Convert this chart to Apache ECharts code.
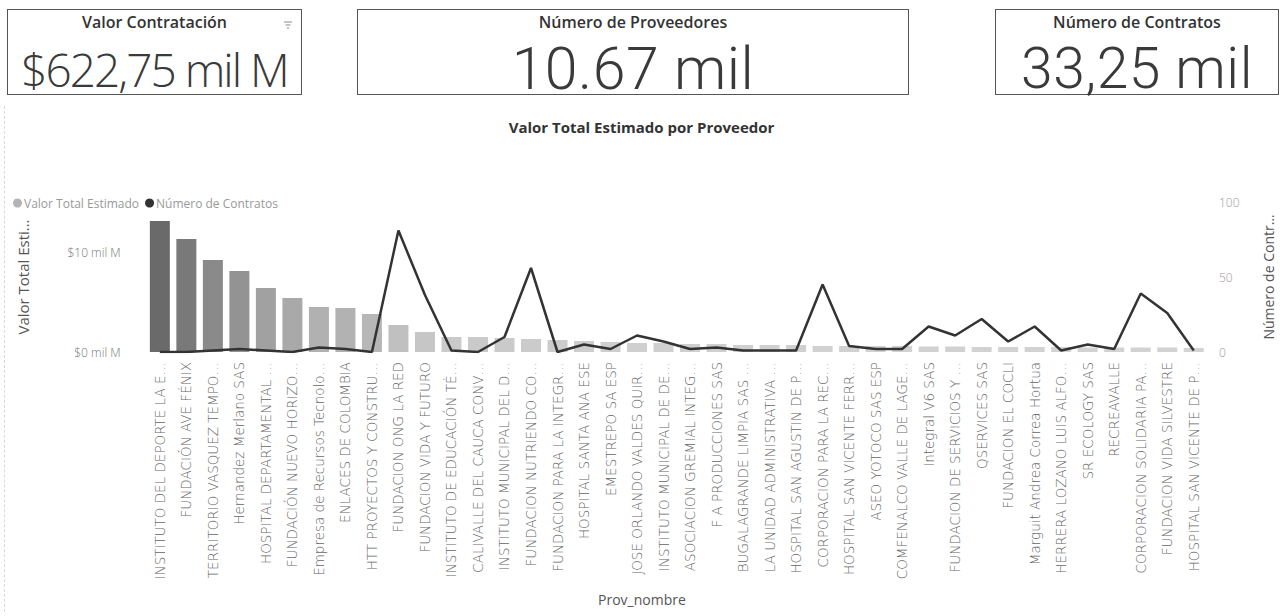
<!DOCTYPE html>
<html>
<head>
<meta charset="utf-8">
<script src="https://cdn.jsdelivr.net/npm/echarts@6/dist/echarts.min.js"></script>
<style>
  html, body { margin: 0; padding: 0; background: #fff; }
  body { width: 1283px; height: 616px; position: relative; overflow: hidden; font-family: 'Open Sans', sans-serif; }
  #chart { position: absolute; left: 0; top: 0; width: 1283px; height: 616px; }
  .frame { position: absolute; left: 4px; top: 106px; width: 1274px; height: 506px; border-left: 1px dashed #d8d8d8; }
  .card { position: absolute; top: 9px; height: 86px; border: 1.5px solid #555; box-sizing: border-box; text-align: center; color: #333; background: #fff; }
  .card .t { font-size: 16px; font-weight: 600; margin-top: 1px; line-height: 22px; white-space: nowrap; }
  .card .v { position: absolute; left: 0; right: 0; font-weight: 300; color: #3a3a3a; white-space: nowrap; line-height: 1; }
  .card .v.r { font-family: Roboto, sans-serif; }
  .filter { position: absolute; right: 8px; top: 10px; }
</style>
</head>
<body>
<div class="frame"></div>
<div id="chart"></div>
<div class="card" style="left:7px;width:295px">
  <div class="t">Valor Contratación</div>
  <div class="v" style="font-size:46px;top:36px;letter-spacing:-2px">$622,75 mil M</div>
  <svg class="filter" width="10" height="10" viewBox="0 0 10 10"><path d="M1 2h8M2.5 5h5M4 8h2" stroke="#888" stroke-width="1.2"/></svg>
</div>
<div class="card" style="left:357px;width:552px">
  <div class="t">Número de Proveedores</div>
  <div class="v r" style="font-size:59px;top:29px;letter-spacing:0.5px">10.67 mil</div>
</div>
<div class="card" style="left:995px;width:284px">
  <div class="t">Número de Contratos</div>
  <div class="v r" style="font-size:57px;top:30px;letter-spacing:0.5px">33,25 mil</div>
</div>
<script>
const categories = [
  'INSTITUTO DEL DEPORTE LA E…', 'FUNDACIÓN AVE FÉNIX', 'TERRITORIO VASQUEZ TEMPO…',
  'Hernandez Merlano SAS', 'HOSPITAL DEPARTAMENTAL …', 'FUNDACIÓN NUEVO HORIZO…',
  'Empresa de Recursos Tecnolo…', 'ENLACES DE COLOMBIA', 'HTT PROYECTOS Y CONSTRU…',
  'FUNDACION ONG LA RED', 'FUNDACION VIDA Y FUTURO', 'INSTITUTO DE EDUCACIÓN TÉ…',
  'CALIVALLE DEL CAUCA CONV…', 'INSTITUTO MUNICIPAL DEL D…', 'FUNDACION NUTRIENDO CO…',
  'FUNDACION PARA LA INTEGR…', 'HOSPITAL SANTA ANA ESE', 'EMESTREPO SA ESP',
  'JOSE ORLANDO VALDES QUIR…', 'INSTITUTO MUNICIPAL DE DE…', 'ASOCIACION GREMIAL INTEG…',
  'F A PRODUCCIONES SAS', 'BUGALAGRANDE LIMPIA SAS …', 'LA UNIDAD ADMINISTRATIVA …',
  'HOSPITAL SAN AGUSTIN DE P…', 'CORPORACION PARA LA REC…', 'HOSPITAL SAN VICENTE FERR…',
  'ASEO YOTOCO SAS ESP', 'COMFENALCO VALLE DE LAGE…', 'Integral V6 SAS',
  'FUNDACION DE SERVICIOS Y …', 'QSERVICES SAS', 'FUNDACION EL COCLI',
  'Marguit Andrea Correa Hortua', 'HERRERA LOZANO LUIS ALFO…', 'SR ECOLOGY SAS',
  'RECREAVALLE', 'CORPORACION SOLIDARIA PA…', 'FUNDACION VIDA SILVESTRE',
  'HOSPITAL SAN VICENTE DE P…'
]

// Valor Total Estimado, en mil M
const valorTotal = [
  13.1, 11.3, 9.2, 8.1, 6.4, 5.4, 4.5, 4.4, 3.8, 2.7,
  2.0, 1.5, 1.5, 1.4, 1.3, 1.2, 1.1, 1.0, 0.9, 0.9,
  0.8, 0.8, 0.7, 0.7, 0.7, 0.6, 0.6, 0.6, 0.6, 0.55,
  0.55, 0.5, 0.5, 0.5, 0.5, 0.45, 0.45, 0.45, 0.45, 0.4
]

const numContratos = [
  0, 0, 1, 2, 1, 0, 3, 2, 0, 81,
  38, 1, 0, 10, 56, 0, 5, 2, 11, 7,
  2, 3, 1, 1, 1, 45, 4, 2, 2, 17,
  11, 22, 7, 17, 1, 5, 2, 39, 26, 1
]

const leftTicks = [0, 10]

const chart = echarts.init(document.getElementById('chart'), null, { renderer: 'svg' })

const maxVal = Math.max(...valorTotal)
function barColor(v) {
  const t = v / maxVal
  const c = Math.round(214 - 108 * t)
  return 'rgb(' + c + ',' + c + ',' + c + ')'
}

chart.setOption({
  textStyle: { fontFamily: 'Open Sans' },
  animation: false,
  title: {
    text: 'Valor Total Estimado por Proveedor',
    left: 'center',
    top: 114,
    textStyle: { fontSize: 15, fontWeight: 'bold', color: '#333' }
  },
  legend: {
    left: 8,
    top: 192,
    icon: 'circle',
    itemWidth: 9,
    itemHeight: 9,
    itemGap: 6,
    textStyle: { fontSize: 12, color: '#999', padding: [0, 0, 0, -3] },
    data: ['Valor Total Estimado', 'Número de Contratos']
  },
  grid: {
    left: 146.6,
    right: 68.4,
    top: 202,
    bottom: 264,
    containLabel: false
  },
  xAxis: {
    type: 'category',
    data: categories,
    axisLine: { show: false },
    axisTick: { show: false },
    axisLabel: {
      interval: 0,
      rotate: 90,
      margin: 10,
      fontSize: 13.5,
      fontFamily: 'DejaVu Sans',
      fontWeight: 200,
      color: '#666'
    }
  },
  yAxis: [{
    type: 'value',
    min: 0,
    max: 15,
    interval: 5,
    name: 'Valor Total Esti…',
    nameLocation: 'middle',
    nameGap: 116,
    nameTextStyle: { fontSize: 15, color: '#555' },
    splitLine: { show: false },
    axisLine: { show: false },
    axisTick: { show: false },
    axisLabel: {
      margin: 26,
      fontSize: 12,
      fontWeight: 300,
      color: '#777',
      formatter: v => leftTicks.includes(v) ? '$' + v + ' mil M' : ''
    }
  }, {
    type: 'value',
    min: 0,
    max: 100,
    interval: 50,
    name: 'Número de Contr…',
    nameLocation: 'middle',
    nameGap: 54,
    nameTextStyle: { fontSize: 14, color: '#555' },
    splitLine: { show: false },
    axisLine: { show: false },
    axisTick: { show: false },
    axisLabel: { margin: 12, fontSize: 12, fontWeight: 300, color: '#999' }
  }],
  graphic: [{
    type: 'text',
    left: 598,
    top: 592,
    style: { text: 'Prov_nombre', fontSize: 14, fill: '#555', fontFamily: 'Open Sans' }
  }],
  series: [{
    name: 'Valor Total Estimado',
    type: 'bar',
    yAxisIndex: 0,
    barWidth: 20,
    color: '#b4b4b4',
    data: valorTotal.map(v => ({ value: v, itemStyle: { color: barColor(v) } }))
  }, {
    name: 'Número de Contratos',
    type: 'line',
    yAxisIndex: 1,
    color: '#333',
    symbol: 'none',
    lineStyle: { width: 2.5, color: '#333' },
    data: numContratos
  }]
})
</script>
</body>
</html>
